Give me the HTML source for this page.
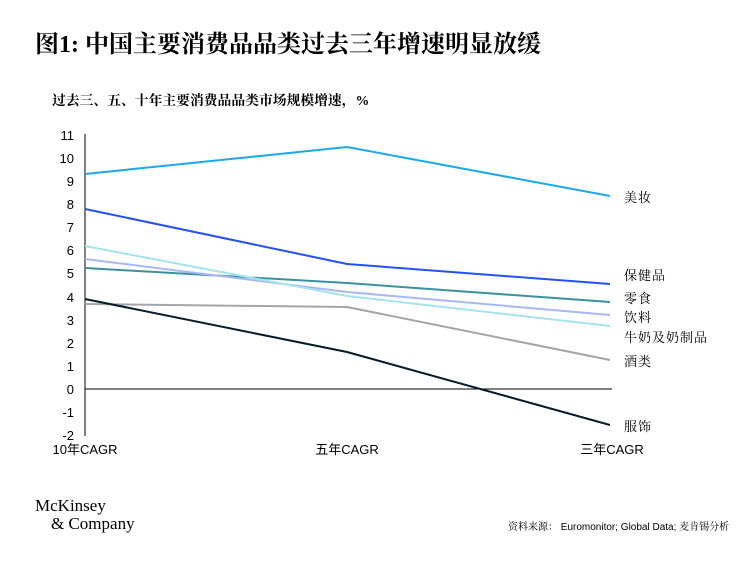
<!DOCTYPE html>
<html><head><meta charset="utf-8"><style>
body{margin:0;background:#fff;}
svg{display:block;}
</style></head><body>
<svg width="750" height="575" xmlns="http://www.w3.org/2000/svg">
<text x="35" y="52" font-family="'Liberation Serif','Noto Serif CJK SC',serif" font-weight="bold" font-size="24" fill="#000">图1: 中国主要消费品品类过去三年增速明显放缓</text>
<text x="52" y="105" font-family="'Liberation Serif','Noto Serif CJK SC',serif" font-weight="bold" font-size="13.8" fill="#000">过去三、五、十年主要消费品品类市场规模增速，%</text>
<g font-family="'Liberation Sans',sans-serif" font-size="13" fill="#000" text-anchor="end">
<text x="74" y="140">11</text><text x="74" y="163">10</text><text x="74" y="186">9</text><text x="74" y="209">8</text><text x="74" y="232">7</text><text x="74" y="255">6</text><text x="74" y="278">5</text><text x="74" y="302">4</text><text x="74" y="325">3</text><text x="74" y="348">2</text><text x="74" y="371">1</text><text x="74" y="394">0</text><text x="74" y="417">-1</text><text x="74" y="440">-2</text>
</g>
<line x1="85" y1="134" x2="85" y2="436" stroke="#000" stroke-width="1"/>
<line x1="85" y1="389" x2="612" y2="389" stroke="#000" stroke-width="1"/>
<g font-family="'Liberation Sans','Noto Sans CJK SC',sans-serif" font-size="13" fill="#000" text-anchor="middle">
<text x="85" y="454">10年CAGR</text><text x="347" y="454">五年CAGR</text><text x="612" y="454">三年CAGR</text>
</g>
<g fill="none" stroke-width="2">
<polyline points="85,174 347,147 610,196" stroke="#1aa9ef"/>
<polyline points="85,209 347,264 610,284" stroke="#2251ff"/>
<polyline points="85,268 347,283 610,302" stroke="#3a929e"/>
<polyline points="85,259 347,292 610,315" stroke="#a9b7f8"/>
<polyline points="85,246 347,296 610,326" stroke="#a3e4ee"/>
<polyline points="85,304 347,307 610,360" stroke="#a2a6a8"/>
<polyline points="85,299 347,352 610,425" stroke="#051c2c"/>
</g>
<g font-family="'Liberation Serif','Noto Serif CJK SC',serif" font-size="13" fill="#000" letter-spacing="1">
<text x="624" y="202">美妆</text><text x="624" y="280">保健品</text><text x="624" y="303">零食</text><text x="624" y="322">饮料</text><text x="624" y="342">牛奶及奶制品</text><text x="624" y="366">酒类</text><text x="624" y="431">服饰</text>
</g>
<text x="35" y="511" font-family="'Liberation Serif',serif" font-size="17" fill="#000">McKinsey</text>
<text x="51" y="529" font-family="'Liberation Serif',serif" font-size="17" fill="#000">&amp; Company</text>
<text x="508" y="530" font-family="'Liberation Sans','Noto Serif CJK SC',sans-serif" font-size="10" fill="#000">资料来源： Euromonitor; Global Data; 麦肯锡分析</text>
</svg>
</body></html>
